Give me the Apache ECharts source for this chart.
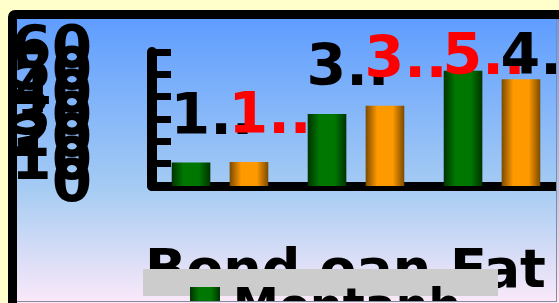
<!DOCTYPE html>
<html>
<head>
<meta charset="utf-8">
<script src="https://cdn.jsdelivr.net/npm/echarts@6/dist/echarts.min.js"></script>
<style>
	html, body { margin: 0; padding: 0; background: #ffffcc; overflow: hidden; }
	.panel {
		position: absolute; left: 8px; top: 10px;
		width: 600px; height: 284px;
		border: 9px solid #000; border-radius: 7px;
		background: linear-gradient( to bottom, #5f9dff 0%, #a6ccf3 60%, #fbe9f9 100% );
	}
	#chart {
		width: 539px; height: 282px;
		border-right: 1px solid #8a8a9a; border-bottom: 1px solid #8a8a9a;
	}
</style>
</head>
<body>
<div class="panel"><div id="chart"></div></div>
<script>
const categories = [ 'Q1', 'Q2', 'Q3' ];
const seriesNames = [ 'Mentanh', 'Kontanh' ];
const greenValues = [ 10.5, 32.2, 51.6 ];
const orangeValues = [ 10.8, 35.9, 47.8 ];
const yMin = 0;
const yMax = 60;
const yStep = 10;
const yTickLabels = [ '0', '10', '20', '30', '40', '50', '60' ];
const titleText = 'Bond oan Fat';

// bar fill: dark edges, bright middle
function barGradient( edge, mid ) {
	return new echarts.graphic.LinearGradient( 0, 0, 1, 0, [
		{ offset: 0, color: edge },
		{ offset: 0.3, color: mid },
		{ offset: 0.7, color: mid },
		{ offset: 1, color: edge }
	] );
}

// the bigger bar of each category gets a red label
function withLabels( values, other ) {
	return values.map( ( v, i ) => ( {
		value: v,
		label: { color: v > other[i] ? '#ff0000' : '#000000' }
	} ) );
}

const barLabel = {
	show: true,
	position: 'top',
	distance: 15,
	fontSize: 57,
	fontWeight: 'bold',
	// labels are cut short to the first digit
	formatter: p => String( p.value ).charAt( 0 ) + '..'
};

const myChart = echarts.init( document.getElementById( 'chart' ) );
const option = {
	animation: false,
	textStyle: { fontFamily: 'DejaVu Sans' },
	title: {
		text: titleText,
		left: 123,
		top: 222,
		z: 1,
		textStyle: { fontSize: 54, fontWeight: 'bold', color: '#000' }
	},
	graphic: [ {
		type: 'rect',
		left: 126,
		top: 250,
		z: 2,
		shape: { width: 355, height: 27 },
		style: { fill: '#cccccc' }
	} ],
	legend: {
		data: seriesNames,
		left: 168,
		top: 262,
		z: 3,
		icon: 'rect',
		itemWidth: 30,
		itemHeight: 44,
		textStyle: { fontSize: 46, fontWeight: 'bold', color: '#000', padding: [ 0, 0, 0, 8 ] }
	},
	grid: {
		left: 135,
		right: -4,
		top: 33,
		bottom: 115,
		outerBoundsMode: 'none'
	},
	xAxis: {
		type: 'category',
		data: categories,
		offset: 3,
		axisLine: { lineStyle: { color: '#000', width: 9 } },
		axisTick: { inside: true, length: 21, lineStyle: { color: '#000', width: 9 } },
		axisLabel: { show: false }
	},
	yAxis: [
		{
			type: 'value',
			min: yMin,
			max: yMax,
			interval: yStep,
			splitLine: { show: false },
			axisLine: { show: true, lineStyle: { color: '#000', width: 10 } },
			axisTick: { show: true, inside: true, length: 19, lineStyle: { color: '#000', width: 7 } },
			axisLabel: { show: false }
		},
		{
			// tick labels on their own axis so none of the crowded ones get dropped
			type: 'category',
			data: yTickLabels,
			position: 'left',
			boundaryGap: false,
			axisLine: { show: false },
			axisTick: { show: false },
			splitLine: { show: false },
			axisLabel: {
				interval: 0,
				fontSize: 58, fontWeight: 'bold', color: '#000', margin: 60
			}
		}
	],
	labelLayout: function ( params ) {
		// shift right a bit and keep labels from running off the top
		const r = params.labelRect;
		return { dx: 21, dy: Math.max( 0, 12 - r.y ) };
	},
	series: [
		{
			name: seriesNames[0],
			type: 'bar',
			barGap: '50%',
			barCategoryGap: '29%',
			itemStyle: { color: barGradient( '#003300', '#007700' ) },
			label: barLabel,
			data: withLabels( greenValues, orangeValues )
		},
		{
			name: seriesNames[1],
			type: 'bar',
			barGap: '50%',
			barCategoryGap: '29%',
			itemStyle: { color: barGradient( '#7a4a00', '#ff9900' ) },
			label: barLabel,
			data: withLabels( orangeValues, greenValues )
		}
	]
};
myChart.setOption( option );
</script>
</body>
</html>
